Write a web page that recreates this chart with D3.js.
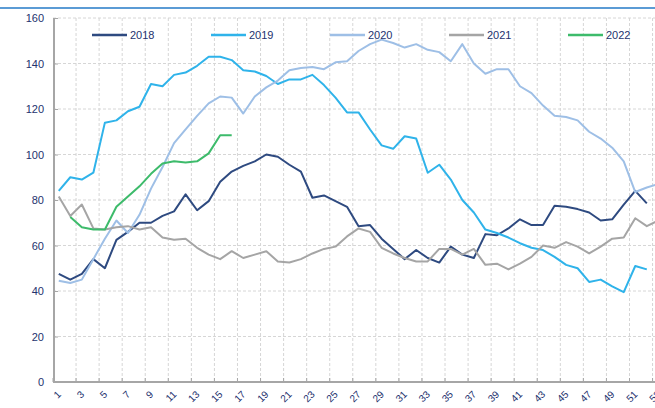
<!DOCTYPE html>
<html>
<head>
<meta charset="utf-8">
<script src="https://cdn.jsdelivr.net/npm/d3@7"></script>
<style>
  body { margin: 0; background: #fff; }
  svg { display: block; font-family: "Liberation Sans", Arial, sans-serif; }
  .grid-line { stroke: #d6d6d6; stroke-width: 1; stroke-dasharray: 3,2; }
  .axis-line { stroke: #a6a6a6; stroke-width: 2; }
  .tick-label { fill: #24326e; font-size: 11px; }
  .path-line { fill: none; stroke-width: 2; stroke-linejoin: round; }
</style>
</head>
<body>
<svg width="655" height="408"></svg>
<script>
'use strict';

var WEEKS = d3.range(1, 54);
var Y_TICKS = [0, 20, 40, 60, 80, 100, 120, 140, 160];
var SERIES_NAMES = ['2018', '2019', '2020', '2021', '2022'];
var COLORS = ['#2e4a80', '#2fb3ea', '#9ebfe6', '#a5a5a5', '#3dbb6b'];

var DATA_2018 = [47.5, 45, 47.5, 54, 50, 62.5, 66, 70, 70, 73, 75, 82.5, 75.5, 79.5, 88, 92.5, 95, 97, 100, 99,
  95.5, 92.5, 81, 82, 79.5, 77, 68.5, 69, 63, 58.5, 54, 58, 54.5, 52.5, 59.5, 56, 54.5, 65, 64.5, 67.5,
  71.5, 69, 69, 77.5, 77, 76, 74.5, 71, 71.5, 78, 84, 78.5];
var DATA_2019 = [84, 90, 89, 92, 114, 115, 119, 121, 131, 130, 135, 136, 139, 143, 143, 141.5, 137, 136.5, 134.5, 131,
  133, 133, 135, 130.5, 125, 118.5, 118.5, 111, 104, 102.5, 108, 107, 92, 95.5, 89, 80, 74.5, 67, 65.5, 63.5,
  61, 59, 58, 55, 51.5, 50, 44, 45, 42, 39.5, 51, 49.5];
var DATA_2020 = [44.5, 43.5, 45, 54, 63, 71, 65.5, 73.5, 85, 94.5, 105, 111, 117, 122.5, 125.5, 125, 118, 125.5, 129.5, 132.5,
  137, 138, 138.5, 137.5, 140.5, 141, 145.5, 148.5, 150.5, 149, 147, 148.5, 146, 145, 141, 148.5, 140, 135.5, 137.5, 137.5,
  130, 127, 121.5, 117, 116.5, 115, 110, 107, 103, 97, 83.5, 85.5, 87];
var DATA_2021 = [81.5, 73, 78, 67.5, 67, 68, 68.5, 67, 68, 63.5, 62.5, 63, 59, 56, 54, 57.5, 54.5, 56, 57.5, 53,
  52.5, 54, 56.5, 58.5, 59.5, 64, 67.5, 66, 59, 56.5, 54.5, 53, 53, 58.5, 58.5, 56, 58.5, 51.5, 52, 49.5,
  52, 55, 60, 59, 61.5, 59.5, 56.5, 59.5, 63, 63.5, 72, 68.5, 71];
var DATA_2022 = [null, 72.5, 68, 67, 67, 77, 81.5, 86, 91.5, 96, 97, 96.5, 97, 100.5, 108.5, 108.5];

var DATA = [DATA_2018, DATA_2019, DATA_2020, DATA_2021, DATA_2022];

var svg = d3.select('svg');
var plot = { left: 53, top: 18, bottom: 382, step: 11.53 };

var xScale = d3.scaleBand().domain(WEEKS).range([plot.left, plot.left + WEEKS.length * plot.step]);
var yScale = d3.scaleLinear().domain([0, 160]).range([plot.bottom, plot.top]);
var oddWeeks = WEEKS.filter(function (w) { return w % 2 === 1; });

// top rule
svg.append('line').attr('x1', 0).attr('x2', 655).attr('y1', 8).attr('y2', 8)
  .attr('stroke', '#5b9bd5').attr('stroke-width', 2);

// grid
var grid = svg.append('g').attr('class', 'grid');
grid.selectAll('.h').data(Y_TICKS.slice(1)).enter().append('line')
  .attr('class', 'grid-line h')
  .attr('x1', plot.left).attr('x2', 655)
  .attr('y1', function (d) { return yScale(d); })
  .attr('y2', function (d) { return yScale(d); });
grid.selectAll('.v').data(oddWeeks.slice(1)).enter().append('line')
  .attr('class', 'grid-line v')
  .attr('x1', function (d) { return xScale(d); })
  .attr('x2', function (d) { return xScale(d); })
  .attr('y1', plot.top).attr('y2', plot.bottom);

// axes
svg.append('line').attr('class', 'axis-line')
  .attr('x1', plot.left + 1).attr('x2', plot.left + 1).attr('y1', plot.top).attr('y2', plot.bottom + 1);
svg.append('line').attr('class', 'axis-line')
  .attr('x1', plot.left).attr('x2', 655).attr('y1', plot.bottom).attr('y2', plot.bottom);

var yAxis = d3.axisLeft(yScale).tickValues(Y_TICKS).tickSize(-4).tickPadding(10);
var ya = svg.append('g').attr('transform', 'translate(' + (plot.left + 1) + ',0)').call(yAxis);
ya.select('.domain').remove();
ya.selectAll('.tick line').attr('stroke', '#a6a6a6');
ya.selectAll('.tick text').attr('class', 'tick-label').style('font-size', '11px').attr('font-family', null);

// x ticks at band boundaries, labels at band centres
svg.append('g').selectAll('line').data(oddWeeks).enter().append('line')
  .attr('x1', function (d) { return xScale(d); })
  .attr('x2', function (d) { return xScale(d); })
  .attr('y1', plot.bottom).attr('y2', plot.bottom - 4)
  .attr('stroke', '#a6a6a6');
svg.append('g').selectAll('text').data(oddWeeks).enter().append('text')
  .attr('class', 'tick-label')
  .style('font-size', '10px')
  .attr('text-anchor', 'end')
  .attr('transform', function (d) {
    return 'translate(' + (xScale(d) + xScale.bandwidth() / 2 + 3) + ',' + 395 + ') rotate(-45)';
  })
  .text(function (d) { return d; });

// lines
var line = d3.line()
  .defined(function (d) { return d != null; })
  .x(function (d, i) { return xScale(WEEKS[i]) + xScale.bandwidth() / 2; })
  .y(function (d) { return yScale(d); });

svg.append('g').selectAll('path').data(DATA).enter().append('path')
  .attr('class', 'path-line')
  .attr('stroke', function (d, i) { return COLORS[i]; })
  .attr('d', function (d) { return line(d); });

// legend
var legend = svg.append('g').selectAll('g').data(SERIES_NAMES).enter().append('g')
  .attr('transform', function (d, i) { return 'translate(' + (92 + i * 119) + ',35)'; });
legend.append('line').attr('x1', 0).attr('x2', 35).attr('y1', 0).attr('y2', 0)
  .attr('stroke-width', 2.5)
  .attr('stroke', function (d, i) { return COLORS[i]; });
legend.append('text').attr('class', 'tick-label').attr('x', 38).attr('y', 4)
  .text(function (d) { return d; });
</script>
</body>
</html>
